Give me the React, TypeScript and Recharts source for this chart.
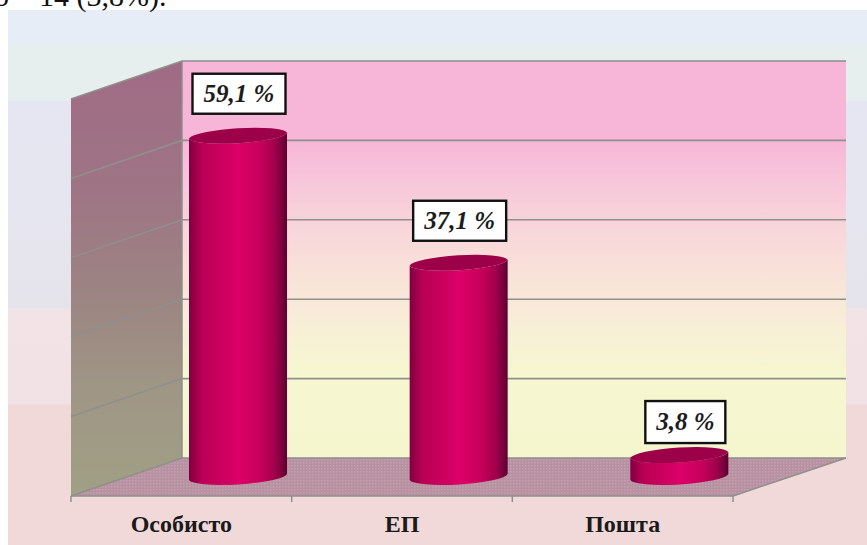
import * as React from "react";
import {
  BarChart,
  Bar,
  XAxis,
  YAxis,
  CartesianGrid,
  LabelList,
} from "recharts";

const CATEGORIES = ["Особисто", "ЕП", "Пошта"];
const SHARES = [59.1, 37.1, 3.8];
const GRID_TICKS = [0, 13.75, 27.5, 41.25, 55, 68.75];
const Y_MAX = 68.75;

const CAPTION = "о – 14 (3,8%).";

const WIDTH = 867;
const HEIGHT = 545;

// front plane of the fake 3D box
const LEFT = 71;
const RIGHT = 733;
const TOP = 99;
const BOTTOM = 496;
// how far the back wall sits from the front plane
const DEPTH_X = 112;
const DEPTH_Y = 38;
const BAND = (RIGHT - LEFT) / CATEGORIES.length;

const GRID_COLOR = "#8f8f8c";
const FONT = '"Liberation Serif", serif';

const data = CATEGORIES.map((name, i) => ({ name, share: SHARES[i] }));

// the picture is posterized, so each band is a pair of hard stops
function Bands({ id, colors, vertical = true }: { id: string; colors: Array<[number, string]>; vertical?: boolean }) {
  return (
    <linearGradient id={id} x1="0" y1="0" x2={vertical ? "0" : "1"} y2={vertical ? "1" : "0"}>
      {colors.map(([pos, color], i) => (
        <stop key={i} offset={pos} stopColor={color} />
      ))}
    </linearGradient>
  );
}

// sits behind the chart's svg: page background, walls and floor
function Scene() {
  const backLeft = LEFT + DEPTH_X - 1;
  const backRight = RIGHT + DEPTH_X + 1;
  const backTop = TOP - DEPTH_Y;
  const backBottom = BOTTOM - DEPTH_Y;
  return (
    <svg width={WIDTH} height={HEIGHT} style={{ position: "absolute", left: 0, top: 0 }}>
      <defs>
        <Bands
          id="pageBg"
          colors={[
            [0, "#e6edf6"],
            [0.063, "#e6edf6"],
            [0.067, "#e7efee"],
            [0.168, "#e7efee"],
            [0.172, "#e6e6f2"],
            [0.38, "#e6e6f0"],
            [0.556, "#e5e3ea"],
            [0.56, "#f2e3e6"],
            [0.735, "#f2e1e5"],
            [0.74, "#f1d9da"],
            [1, "#f1d9da"],
          ]}
        />
        <Bands
          id="backWall"
          colors={[
            [0, "#f7b5d7"],
            [0.2, "#f7b6d8"],
            [0.3, "#f7c6da"],
            [0.42, "#f8d6da"],
            [0.55, "#f9e3d8"],
            [0.66, "#f8eed8"],
            [0.78, "#f6f6d0"],
            [1, "#f5f6ce"],
          ]}
        />
        <Bands
          id="sideWall"
          colors={[
            [0, "#a06b85"],
            [0.3, "#9e7585"],
            [0.55, "#9c8582"],
            [0.75, "#9f9685"],
            [1, "#a0a084"],
          ]}
        />
        <pattern id="floorDots" width="3" height="3" patternUnits="userSpaceOnUse">
          <rect width="3" height="3" fill="#b8919f" />
          <rect width="1.5" height="1.5" fill="#c2a0b8" />
        </pattern>
      </defs>
      <rect x={8} y={10} width={WIDTH - 8} height={HEIGHT - 10} fill="url(#pageBg)" />
      <text x={-6} y={6} fontFamily={FONT} fontSize={30} fill="#111">
        {CAPTION}
      </text>
      <rect x={backLeft} y={backTop} width={backRight - backLeft} height={backBottom - backTop} fill="url(#backWall)" />
      <polygon
        points={`${LEFT},${TOP} ${backLeft},${backTop} ${backLeft},${backBottom} ${LEFT},${BOTTOM}`}
        fill="url(#sideWall)"
      />
      <polygon
        points={`${LEFT},${BOTTOM} ${backLeft},${backBottom} ${backRight},${backBottom} ${RIGHT},${BOTTOM}`}
        fill="url(#floorDots)"
      />
      <line x1={backLeft} y1={backTop} x2={backLeft} y2={backBottom} stroke={GRID_COLOR} strokeWidth={1.5} />
      <line x1={backRight} y1={backBottom} x2={RIGHT} y2={BOTTOM} stroke={GRID_COLOR} strokeWidth={1.5} />
    </svg>
  );
}

// gridline runs up the side wall, then along the back wall
function GridLine(props: any) {
  const { x1, y1, x2 } = props;
  return (
    <polyline
      key={props.key}
      points={`${x1},${y1} ${x1 + DEPTH_X - 1},${y1 - DEPTH_Y} ${x2 + DEPTH_X + 1},${y1 - DEPTH_Y}`}
      fill="none"
      stroke={GRID_COLOR}
      strokeWidth={1.6}
    />
  );
}

function Cylinder(props: any) {
  const { x, y, width, height } = props;
  const left = x + DEPTH_X / 2 + 1;
  const right = left + width;
  const rx = width / 2 + 0.2;
  const ry = 8;
  const tilt = 3; // ends of the ellipse lean, left lower than right
  const top = y - DEPTH_Y / 2;
  const bottom = top + height;
  const side =
    `M${left},${top + tilt} L${left},${bottom + tilt} ` +
    `A${rx},${ry} -3.5 0 0 ${right},${bottom - tilt} ` +
    `L${right},${top - tilt} ` +
    `A${rx},${ry} -3.5 0 1 ${left},${top + tilt} Z`;
  const cap =
    `M${left},${top + tilt} A${rx},${ry} -3.5 0 1 ${right},${top - tilt} ` +
    `A${rx},${ry} -3.5 0 1 ${left},${top + tilt} Z`;
  return (
    <g>
      <path d={side} fill="url(#cylinder)" />
      <path d={cap} fill="#9c0049" />
    </g>
  );
}

function ValueBox(props: any) {
  const { x, y, width, value } = props;
  const small = value < 10;
  const text = `${value.toFixed(1).replace(".", ",")} %`;
  const boxW = small ? 80 : 93;
  const boxH = small ? 42 : 40;
  const cx = x + width / 2 + DEPTH_X / 2 + 1 + (small ? 6 : 1);
  const boxBottom = y - DEPTH_Y / 2 - (small ? 12 : 22);
  return (
    <g>
      <rect
        x={cx - boxW / 2}
        y={boxBottom - boxH}
        width={boxW}
        height={boxH}
        fill="#ffffff"
        stroke="#111"
        strokeWidth={2.4}
      />
      <text
        x={cx}
        y={boxBottom - boxH / 2 + 8}
        textAnchor="middle"
        fontFamily={FONT}
        fontSize={25}
        fontWeight="bold"
        fontStyle="italic"
        fill="#1c1c1c"
      >
        {text}
      </text>
    </g>
  );
}

function CategoryTick(props: any) {
  const { x, y, payload, index } = props;
  const isLast = index === CATEGORIES.length - 1;
  // recharts hands over y already pushed down by tick size + margin
  const axisY = y - 8;
  return (
    <g>
      <line x1={x - BAND / 2} y1={axisY} x2={x - BAND / 2} y2={axisY + 6} stroke={GRID_COLOR} strokeWidth={1.5} />
      {isLast && (
        <line x1={x + BAND / 2} y1={axisY} x2={x + BAND / 2} y2={axisY + 6} stroke={GRID_COLOR} strokeWidth={1.5} />
      )}
      <text x={x} y={axisY + 36} textAnchor="middle" fontFamily={FONT} fontSize={24} fontWeight="bold" fill="#1a1a1a">
        {payload.value}
      </text>
    </g>
  );
}

export default function App() {
  return (
    <div style={{ position: "absolute", left: 0, top: 0, width: WIDTH, height: HEIGHT, background: "#fff", overflow: "hidden" }}>
      <Scene />
      <div style={{ position: "absolute", left: 0, top: 0 }}>
        <BarChart
          width={WIDTH}
          height={HEIGHT}
          data={data}
          margin={{ top: TOP, right: WIDTH - RIGHT, bottom: 0, left: LEFT }}
        >
          <defs>
            <Bands
              id="cylinder"
              vertical={false}
              colors={[
                [0, "#80003f"],
                [0.13, "#b90056"],
                [0.3, "#c8005c"],
                [0.5, "#dc0068"],
                [0.72, "#c8005c"],
                [0.88, "#a0004c"],
                [1, "#5e0030"],
              ]}
            />
          </defs>
          <CartesianGrid horizontal={(p: any) => GridLine(p)} vertical={false} />
          <XAxis
            dataKey="name"
            height={HEIGHT - BOTTOM}
            axisLine={{ stroke: GRID_COLOR, strokeWidth: 1.5 }}
            tickLine={false}
            interval={0}
            tick={(p: any) => <CategoryTick {...p} />}
          />
          <YAxis
            width={0}
            domain={[0, Y_MAX]}
            ticks={GRID_TICKS}
            tick={() => <g />}
            tickLine={false}
            axisLine={{ stroke: GRID_COLOR, strokeWidth: 1.5 }}
          />
          <Bar dataKey="share" barSize={98} shape={(p: any) => <Cylinder {...p} />} isAnimationActive={false}>
            <LabelList dataKey="share" content={(p: any) => <ValueBox {...p} />} />
          </Bar>
        </BarChart>
      </div>
    </div>
  );
}
